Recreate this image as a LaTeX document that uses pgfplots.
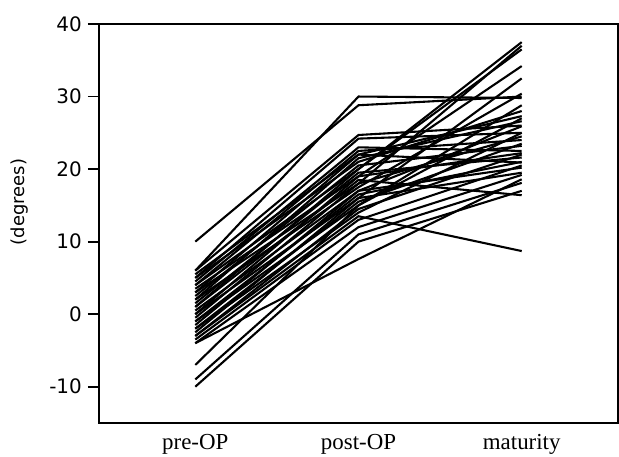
\documentclass[border=0pt]{standalone}
\usepackage{fontspec}
\setmainfont{Liberation Serif}
\newfontfamily\dejavu{DejaVu Sans}
\usepackage{pgfplots}
\pgfplotsset{compat=1.18}
\usetikzlibrary{calc}

\pgfplotsset{ln/.style={black, line width=2.1pt, mark=none}}

\begin{document}
\begin{tikzpicture}
\begin{axis}[
name=ax,
scale only axis,
width=519bp, height=399bp,
xmin=-0.59, xmax=2.59,
ymin=-15, ymax=40,
xtick={0,1,2},
xticklabels={pre-OP,post-OP,maturity},
x tick style={draw=none},
ytick={-10,0,10,20,30,40},
yticklabels={-10,0,10,20,30,40},
ytick pos=left,
tick align=outside,
major tick length=11bp,
y tick style={line width=1.8pt, black},
axis line style={line width=2pt},
xticklabel style={font=\fontsize{23}{23}\selectfont, anchor=base, yshift=-16bp},
yticklabel style={font=\fontsize{20}{20}\dejavu, anchor=east, inner sep=0pt, xshift=-6bp},
]
\addplot[ln] coordinates {(0,10) (1,28.8) (2,30)};
\addplot[ln] coordinates {(0,6) (1,30) (2,29.8)};
\addplot[ln] coordinates {(0,6) (1,24.7) (2,26)};
\addplot[ln] coordinates {(0,5.5) (1,22) (2,27.3)};
\addplot[ln] coordinates {(0,5) (1,24.2) (2,25)};
\addplot[ln] coordinates {(0,5) (1,21) (2,28)};
\addplot[ln] coordinates {(0,4.5) (1,23) (2,22.5)};
\addplot[ln] coordinates {(0,4) (1,20) (2,37.5)};
\addplot[ln] coordinates {(0,4) (1,22.5) (2,24)};
\addplot[ln] coordinates {(0,3.5) (1,19) (2,34.2)};
\addplot[ln] coordinates {(0,3) (1,22) (2,20.9)};
\addplot[ln] coordinates {(0,3) (1,18) (2,37)};
\addplot[ln] coordinates {(0,2.5) (1,20.5) (2,23.2)};
\addplot[ln] coordinates {(0,2) (1,21.5) (2,26.6)};
\addplot[ln] coordinates {(0,2) (1,17.5) (2,30.4)};
\addplot[ln] coordinates {(0,1.5) (1,19.5) (2,21.6)};
\addplot[ln] coordinates {(0,1) (1,18.5) (2,16.4)};
\addplot[ln] coordinates {(0,1) (1,20) (2,36.5)};
\addplot[ln] coordinates {(0,0.5) (1,17) (2,25.9)};
\addplot[ln] coordinates {(0,0) (1,19) (2,22.2)};
\addplot[ln] coordinates {(0,0) (1,16) (2,32.5)};
\addplot[ln] coordinates {(0,-0.5) (1,18) (2,24.5)};
\addplot[ln] coordinates {(0,-1) (1,16.5) (2,21)};
\addplot[ln] coordinates {(0,-1) (1,15) (2,27)};
\addplot[ln] coordinates {(0,-1.5) (1,17) (2,20.2)};
\addplot[ln] coordinates {(0,-2) (1,15.5) (2,23.5)};
\addplot[ln] coordinates {(0,-2) (1,14) (2,25)};
\addplot[ln] coordinates {(0,-2.5) (1,16) (2,19.5)};
\addplot[ln] coordinates {(0,-3) (1,13.5) (2,8.7)};
\addplot[ln] coordinates {(0,-3) (1,14.5) (2,22)};
\addplot[ln] coordinates {(0,-3.5) (1,13) (2,20.5)};
\addplot[ln] coordinates {(0,-4) (1,7.6) (2,18.6)};
\addplot[ln] coordinates {(0,-4) (1,12) (2,19.2)};
\addplot[ln] coordinates {(0,-7) (1,15) (2,28.8)};
\addplot[ln] coordinates {(0,-9) (1,11) (2,18.1)};
\addplot[ln] coordinates {(0,-10) (1,10) (2,17)};
\end{axis}
\node[rotate=90, anchor=center, inner sep=0pt, scale=1.8, font=\dejavu] at ($(ax.south west)+(-79bp,221bp)$) {(degrees)};
\pgfresetboundingbox
\path[use as bounding box] ($(ax.south west)+(-99bp,-34bp)$) rectangle ($(ax.north east)+(1bp,24bp)$);
\end{tikzpicture}
\end{document}
